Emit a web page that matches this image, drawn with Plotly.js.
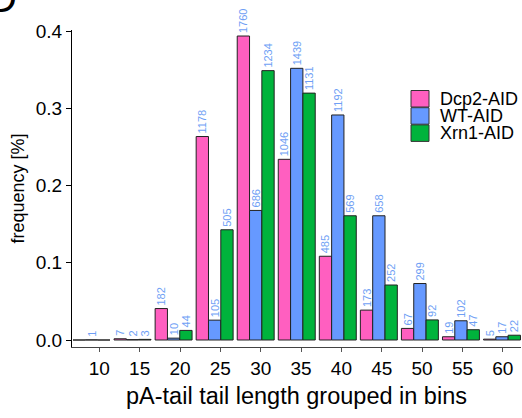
<!DOCTYPE html>
<html><head><meta charset="utf-8">
<script src="https://cdn.plot.ly/plotly-3.0.1.min.js"></script>
<style>html,body{margin:0;padding:0;background:#fff;}#chart{width:522px;height:418px;}</style>
</head><body><div id="chart"></div>
<script>
// ---- data ----
const categories = ['10','15','20','25','30','35','40','45','50','55','60'];
const seriesNames = ['Dcp2-AID','WT-AID','Xrn1-AID'];
const seriesColors = ['#ff5fc0','#6699ff','#00b33c'];
const dcp2Freq = [0, 0.0016, 0.0407, 0.2634, 0.3935, 0.2339, 0.1084, 0.0387, 0.0150, 0.0042, 0.0011];
const wtFreq   = [0.0002, 0.0005, 0.0024, 0.0257, 0.1677, 0.3517, 0.2913, 0.1608, 0.0731, 0.0249, 0.0042];
const xrn1Freq = [0, 0.0008, 0.0124, 0.1427, 0.3487, 0.3196, 0.1608, 0.0712, 0.0260, 0.0133, 0.0062];
const dcp2Counts = [null, 7, 182, 1178, 1760, 1046, 485, 173, 67, 19, 5];
const wtCounts   = [1, 2, 10, 105, 686, 1439, 1192, 658, 299, 102, 17];
const xrn1Counts = [null, 3, 44, 505, 1234, 1131, 569, 252, 92, 47, 22];
const yTickVals = [0, 0.1, 0.2, 0.3, 0.4];

// ---- layout constants ----
const W = 522, H = 418;
const M = {l: 72, r: 1, t: 30, b: 71, pad: 0};
const PW = W - M.l - M.r, PH = H - M.t - M.b;
const px2x = px => (px - M.l) / PW;
const py2y = py => (H - M.b - py) / PH;
const FONT = '"Liberation Sans", Arial, Helvetica, sans-serif';

const xIdx = categories.map((c, i) => i);
const freqs = [dcp2Freq, wtFreq, xrn1Freq];
const counts = [dcp2Counts, wtCounts, xrn1Counts];

const traces = seriesNames.map((name, s) => ({
  type: 'bar',
  name: name,
  x: xIdx,
  y: freqs[s],
  text: counts[s].map(n => n == null ? '' : String(n)),
  textposition: 'outside',
  textangle: -90,
  constraintext: 'none',
  cliponaxis: false,
  textfont: {family: FONT, size: 11, color: '#6f9ff5'},
  marker: {color: seriesColors[s], line: {color: '#222', width: 1}},
  hoverinfo: 'x+y+name'
}));

// manual legend (squares + labels)
const shapes = [];
const annotations = [];
seriesNames.forEach((name, i) => {
  const y0 = 90.5 + 17.2 * i;
  shapes.push({type: 'rect', xref: 'paper', yref: 'paper',
    x0: px2x(411), x1: px2x(429), y0: py2y(y0), y1: py2y(y0 + 16.5),
    fillcolor: seriesColors[i], line: {color: '#333', width: 1}});
  annotations.push({xref: 'paper', yref: 'paper', x: px2x(438), y: py2y(y0 + 8.3),
    xanchor: 'left', yanchor: 'middle', showarrow: false, text: name,
    font: {family: FONT, size: 18, color: '#000'}});
});
// panel letter (cut off at top-left)
annotations.push({xref: 'paper', yref: 'paper', x: px2x(19), y: py2y(22),
  xanchor: 'right', yanchor: 'bottom', showarrow: false, text: 'D',
  font: {family: FONT, size: 40, color: '#000'}});

const layout = {
  width: W, height: H,
  margin: M,
  paper_bgcolor: '#fff', plot_bgcolor: '#fff',
  showlegend: false,
  barmode: 'group',
  bargap: 0.1,
  bargroupgap: 0,
  font: {family: FONT, color: '#000'},
  xaxis: {
    range: [-0.475, 10.463],
    tickvals: categories.map((c, i) => i * 0.983 + 0.19),
    ticktext: categories,
    ticks: 'outside', ticklen: 4, tickwidth: 1, tickcolor: '#555',
    showline: true, linecolor: '#444', linewidth: 1,
    showgrid: false, zeroline: false,
    tickfont: {family: FONT, size: 19, color: '#000'},
    title: {text: 'pA-tail tail length grouped in bins', font: {family: FONT, size: 23.5, color: '#000'}, standoff: 9},
    automargin: false
  },
  yaxis: {
    range: [-0.00906, 0.4013],
    tickvals: yTickVals,
    ticktext: yTickVals.map(v => v.toFixed(1)),
    ticks: 'outside', ticklen: 5, tickwidth: 1, tickcolor: '#000',
    showline: true, linecolor: '#000', linewidth: 1,
    showgrid: false, zeroline: false,
    tickfont: {family: FONT, size: 19, color: '#000'},
    title: {text: 'frequency [%]', font: {family: FONT, size: 18, color: '#000'}, standoff: 6},
    automargin: false
  },
  shapes: shapes,
  annotations: annotations
};

Plotly.newPlot('chart', traces, layout, {displayModeBar: false, staticPlot: true});
</script>
</body></html>
